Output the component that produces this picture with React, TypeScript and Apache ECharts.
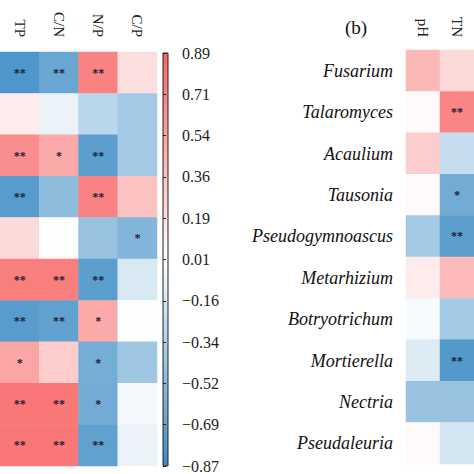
import React, { useEffect, useRef } from "react";
import * as echarts from "echarts";

const leftCols = ["TP", "C/N", "N/P", "C/P"];
const leftRowCount = 10;
const tpVals = [-0.78, 0.12, 0.66, -0.74, 0.22, 0.74, -0.74, 0.52, 0.78, 0.78];
const cnVals = [-0.66, -0.08, 0.5, -0.5, 0.0, 0.74, -0.7, 0.3, 0.78, 0.78];
const npVals = [0.72, -0.3, -0.72, 0.72, -0.45, -0.72, 0.5, -0.6, -0.62, -0.7];
const cpVals = [0.2, -0.4, -0.4, 0.36, -0.55, -0.16, 0.0, -0.42, -0.04, -0.08];
const tpStars = ["**", "", "**", "**", "", "**", "**", "*", "**", "**"];
const cnStars = ["**", "", "*", "", "", "**", "**", "", "**", "**"];
const npStars = ["**", "", "**", "**", "", "**", "*", "*", "*", "**"];
const cpStars = ["", "", "", "", "*", "", "", "", "", ""];

const rightCols = ["pH", "TN"];
const rightRows = [
  "Fusarium",
  "Talaromyces",
  "Acaulium",
  "Tausonia",
  "Pseudogymnoascus",
  "Metarhizium",
  "Botryotrichum",
  "Mortierella",
  "Nectria",
  "Pseudaleuria",
];
const phVals = [0.42, 0.04, 0.3, 0.04, -0.4, 0.12, -0.03, -0.14, -0.45, 0.04];
const tnVals = [0.22, 0.7, -0.25, -0.62, -0.72, 0.4, -0.4, -0.76, -0.45, -0.18];
const phStars = ["", "", "", "", "", "", "", "", "", ""];
const tnStars = ["", "**", "", "*", "**", "", "", "**", "", ""];

const colorbarTicks = [
  "\u22120.87",
  "\u22120.69",
  "\u22120.52",
  "\u22120.34",
  "\u22120.16",
  "0.01",
  "0.19",
  "0.36",
  "0.54",
  "0.71",
  "0.89",
];
const vMin = -0.87;
const vMax = 0.89;

const BLUE = "#3a8bc4";
const RED = "#f86464";
const SERIF = "Liberation Serif";

function buildData(cols: number[][], stars: string[][]) {
  const out: any[] = [];
  cols.forEach((vals, x) => {
    vals.forEach((v, y) => {
      out.push([x, y, v, stars[x][y]]);
    });
  });
  return out;
}

export default function App() {
  const ref = useRef<HTMLDivElement>(null);
  useEffect(() => {
    if (!ref.current) return;
    const chart = echarts.init(ref.current, undefined, { renderer: "svg" });
    const leftData = buildData(
      [tpVals, cnVals, npVals, cpVals],
      [tpStars, cnStars, npStars, cpStars]
    );
    const rightData = buildData([phVals, tnVals], [phStars, tnStars]);
    const leftRows = Array.from({ length: leftRowCount }, (_, i) => String(i + 1));
    const starLabel = {
      show: true,
      formatter: (p: any) => p.value[3],
      fontSize: 12,
      fontWeight: "bold",
      fontFamily: SERIF,
      color: "#1b2233",
    };
    chart.setOption({
      animation: false,
      backgroundColor: "#ffffff",
      grid: [
        { left: -9.5, top: 52, width: 166.5, height: 414 },
        { left: 406, top: 50, width: 82, height: 414 },
        { left: 163, top: 53, width: 5, height: 413 },
      ],
      xAxis: [
        {
          type: "category",
          gridIndex: 0,
          position: "top",
          data: leftCols,
          axisLine: { show: false },
          axisTick: { show: false },
          axisLabel: { rotate: 90, margin: 15, fontFamily: SERIF, fontSize: 15, color: "#222" },
        },
        {
          type: "category",
          gridIndex: 1,
          position: "top",
          data: rightCols,
          axisLine: { show: false },
          axisTick: { show: false },
          axisLabel: { rotate: 90, margin: 13, fontFamily: SERIF, fontSize: 15, color: "#222" },
        },
        { type: "value", gridIndex: 2, show: false, min: 0, max: 1 },
      ],
      yAxis: [
        {
          type: "category",
          gridIndex: 0,
          inverse: true,
          data: leftRows,
          show: false,
        },
        {
          type: "category",
          gridIndex: 1,
          inverse: true,
          data: rightRows,
          axisLine: { show: false },
          axisTick: { show: false },
          axisLabel: {
            margin: 13,
            fontFamily: SERIF,
            fontStyle: "italic",
            fontSize: 18,
            color: "#111",
          },
        },
        {
          type: "value",
          gridIndex: 2,
          position: "right",
          min: 0,
          max: 10,
          interval: 1,
          splitLine: { show: false },
          axisLine: { show: false },
          axisTick: { show: true, length: 3, lineStyle: { color: "#222" } },
          axisLabel: {
            margin: 14,
            fontFamily: SERIF,
            fontSize: 16,
            color: "#222",
            formatter: (v: number) => colorbarTicks[Math.round(v)],
          },
        },
      ],
      visualMap: {
        show: false,
        type: "continuous",
        min: vMin,
        max: vMax,
        dimension: 2,
        seriesIndex: [0, 1],
        inRange: { color: [BLUE, "#ffffff", RED] },
      },
      series: [
        {
          type: "heatmap",
          xAxisIndex: 0,
          yAxisIndex: 0,
          data: leftData,
          label: starLabel,
          itemStyle: { borderWidth: 0 },
        },
        {
          type: "heatmap",
          xAxisIndex: 1,
          yAxisIndex: 1,
          data: rightData,
          label: starLabel,
          itemStyle: { borderWidth: 0 },
        },
        {
          type: "line",
          xAxisIndex: 2,
          yAxisIndex: 2,
          data: [],
        },
      ],
      graphic: [
        {
          type: "rect",
          shape: { x: 163, y: 53, width: 5, height: 413 },
          style: {
            fill: new echarts.graphic.LinearGradient(0, 0, 0, 1, [
              { offset: 0, color: RED },
              { offset: 0.5, color: "#ffffff" },
              { offset: 1, color: BLUE },
            ]),
            stroke: "#222",
            lineWidth: 1,
          },
        },
        {
          type: "text",
          x: 356,
          y: 27,
          style: {
            text: "(b)",
            fontFamily: SERIF,
            fontSize: 19,
            fill: "#111",
            align: "center",
            verticalAlign: "middle",
          },
        },
      ],
    });
    return () => chart.dispose();
  }, []);
  return (
    <div
      ref={ref}
      style={{ position: "fixed", left: 0, top: 0, width: 474, height: 474 }}
    />
  );
}
